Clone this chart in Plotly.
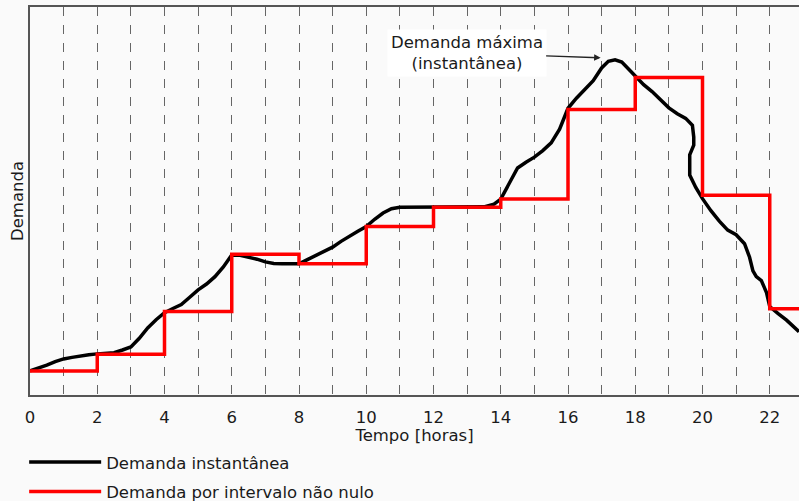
import plotly.graph_objects as go

# Instantaneous demand (hours, relative demand 0-100 of plot height)
inst_t = [0, 0.25, 0.5, 0.75, 1, 1.25, 1.5, 1.75, 2, 2.25, 2.5, 2.75, 3, 3.25, 3.5, 3.75,
          4, 4.25, 4.5, 4.75, 5, 5.25, 5.5, 5.75, 6, 6.25, 6.5, 6.75, 7, 7.25, 7.5, 7.75,
          8, 8.25, 8.5, 8.75, 9, 9.25, 9.5, 9.75, 10, 10.25, 10.5, 10.75, 11, 11.5, 12,
          12.5, 13, 13.5, 13.8, 14, 14.25, 14.5, 14.75, 15, 15.25, 15.5, 15.75, 16, 16.25,
          16.5, 16.75, 17, 17.2, 17.4, 17.6, 17.8, 18, 18.25, 18.5, 18.75, 19, 19.25, 19.5,
          19.7, 19.74, 19.74, 19.62, 19.62, 19.8, 20, 20.25, 20.5, 20.75, 21, 21.25, 21.4,
          21.5, 21.6, 21.75, 21.9, 22, 22.25, 22.5, 22.87]
inst_v = [6.2, 6.9, 7.7, 8.6, 9.3, 9.7, 10.1, 10.4, 10.6, 10.7, 10.9, 11.6, 12.4, 14.6, 17.3, 19.4,
          21.2, 22.3, 23.3, 25.2, 27.1, 28.6, 30.5, 33.0, 36.1, 36.0, 35.6, 35.0, 34.3, 33.9, 33.8, 33.8,
          33.8, 34.9, 36.0, 37.0, 38.1, 39.6, 41.0, 42.2, 43.4, 45.3, 46.9, 48.0, 48.4, 48.4, 48.4,
          48.4, 48.4, 48.5, 49.2, 50.5, 54.5, 58.5, 60.0, 61.3, 63.0, 65.0, 68.5, 73.9, 76.5,
          78.6, 81.0, 84.3, 86.0, 86.4, 85.8, 84.0, 82.2, 80.0, 78.2, 76.0, 74.0, 72.5, 71.3,
          69.5, 66.5, 64.4, 61.9, 56.7, 53.5, 50.6, 47.5, 44.8, 42.5, 41.3, 39.0, 35.5,
          32.0, 30.5, 29.5, 26.5, 22.8, 21.0, 19.3, 16.3]

# Demand per 2-hour interval (step)
step_t = [0, 2, 4, 6, 8, 10, 12, 14, 16, 18, 20, 22, 22.87]
step_v = [6.2, 10.5, 21.5, 36.3, 33.8, 43.4, 48.4, 50.5, 73.6, 81.8, 51.5, 22.2, 22.2]

x_ticks = [0, 2, 4, 6, 8, 10, 12, 14, 16, 18, 20, 22]
peak_t, peak_v = 16.97, 86.9

FONT = "DejaVu Sans"
BG = "#fafafa"
TXT = "#1a1a1a"
FS = 16.5

fig = go.Figure()
fig.add_trace(go.Scatter(x=inst_t, y=inst_v, mode="lines", name="Demanda instantânea",
                         line=dict(color="black", width=3.5), legendgroup="a"))
fig.add_trace(go.Scatter(x=step_t, y=step_v, mode="lines", name="Demanda por intervalo não nulo",
                         line=dict(color="#ff0000", width=3.5, shape="hv"), legendgroup="b"))

fig.add_annotation(x=peak_t, y=peak_v, xref="x", yref="y",
                   text="Demanda máxima<br>(instantânea)", showarrow=True,
                   ax=-134, ay=-5, axref="pixel", ayref="pixel",
                   arrowhead=2, arrowsize=1, arrowwidth=1.3, arrowcolor="#222",
                   bgcolor="white", borderpad=3,
                   font=dict(family=FONT, size=FS, color=TXT))

fig.update_layout(
    width=799, height=501,
    paper_bgcolor=BG, plot_bgcolor=BG,
    margin=dict(l=30, r=0, t=7, b=106),
    font=dict(family=FONT, size=FS, color=TXT),
    showlegend=True,
    legend=dict(orientation="v", x=-0.0076, xanchor="left",
                yref="container", y=0.112, yanchor="top",
                bgcolor="rgba(0,0,0,0)", font=dict(size=FS, family=FONT, color=TXT),
                itemwidth=72, tracegroupgap=5, traceorder="grouped"),
    xaxis=dict(range=[0, 22.87], tickvals=x_ticks, showline=True, linecolor="#555",
               linewidth=2, mirror=True, ticks="outside", ticklen=6, tickcolor=BG,
               zeroline=False, automargin=False,
               showgrid=True, gridcolor="#666", griddash="dash", gridwidth=1,
               minor=dict(dtick=1, tick0=0, showgrid=True, gridcolor="#666",
                          griddash="dash", gridwidth=1),
               title=dict(text="Tempo [horas]", font=dict(size=FS), standoff=11),
               tickfont=dict(size=FS)),
    yaxis=dict(range=[0, 100], showticklabels=False, ticks="", showgrid=False,
               zeroline=False, showline=True, linecolor="#555", linewidth=2,
               automargin=False,
               title=dict(text="Demanda", font=dict(size=FS), standoff=0)),
)

fig.write_html(
    "out.html",
    config={"displayModeBar": False},
    post_script="document.body.style.margin='0';document.body.style.background='#fafafa';"
                "document.body.style.overflow='hidden';",
)
